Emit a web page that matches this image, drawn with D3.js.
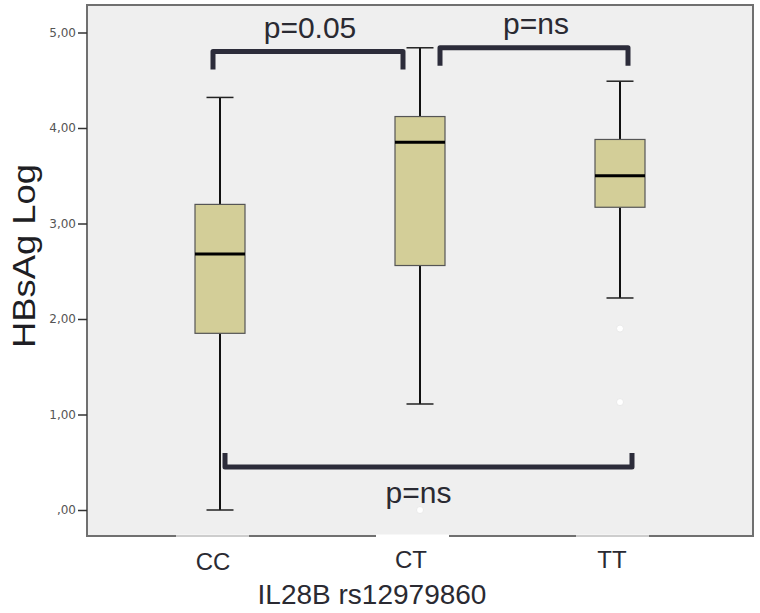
<!DOCTYPE html>
<html>
<head>
<meta charset="utf-8">
<script src="https://cdn.jsdelivr.net/npm/d3@7"></script>
<style>
  body { margin: 0; background: #fff; }
  svg { display: block; }
</style>
</head>
<body>
<svg id="chart" width="760" height="613"></svg>
<script>
// Box plot values (HBsAg Log by genotype).
const groups = ["CC", "CT", "TT"];
const whiskerLow = [0.00, 1.11, 2.22];
const q1 = [1.85, 2.56, 3.17];
const median = [2.68, 3.85, 3.50];
const q3 = [3.20, 4.12, 3.88];
const whiskerHigh = [4.32, 4.84, 4.49];
const outlierGroup = ["CT", "TT", "TT"];
const outlierValue = [0.00, 1.90, 1.13];
const yTicks = [0, 1, 2, 3, 4, 5];

// Comparison brackets: first group, second group, bracket level, label.
const cmpFrom = ["CC", "CT", "CC"];
const cmpTo = ["CT", "TT", "TT"];
const cmpLevel = [4.80, 4.84, 0.45];
const cmpLabel = ["p=0.05", "p=ns", "p=ns"];

const svg = d3.select("#chart");
const frame = {left: 87, top: 5, right: 753, bottom: 536};

const x = d3.scalePoint()
  .domain(groups)
  .range([frame.left, frame.right])
  .padding(0.665);

const y = d3.scaleLinear()
  .domain([0, 5])
  .range([510, 32.5]);

// Plot background.
svg.append("rect")
  .attr("x", frame.left)
  .attr("y", frame.top)
  .attr("width", frame.right - frame.left)
  .attr("height", frame.bottom - frame.top)
  .style("fill", "#efefef")
  .style("stroke", "#707070")
  .style("stroke-width", 2);

// Y axis ticks and labels.
const fmt = v => (v === 0 ? ",00" : d3.format(".2f")(v).replace(".", ","));
const yAxis = svg.append("g")
  .attr("transform", "translate(" + frame.left + ",0)")
  .call(d3.axisLeft(y).tickValues(yTicks).tickFormat(fmt).tickSize(9).tickPadding(2));
yAxis.select(".domain").remove();
yAxis.selectAll(".tick line").style("stroke", "#333").style("stroke-width", 1.5);
yAxis.selectAll(".tick text")
  .style("font-family", "DejaVu Sans, sans-serif")
  .style("font-size", "12px")
  .style("fill", "#555");

const boxW = 50;
const capW = 27;

const boxes = svg.append("g");
groups.forEach((g, i) => {
  const cx = x(g);
  // Whiskers.
  boxes.append("line")
    .attr("x1", cx).attr("x2", cx)
    .attr("y1", y(whiskerHigh[i])).attr("y2", y(q3[i]))
    .style("stroke", "#111").style("stroke-width", 2);
  boxes.append("line")
    .attr("x1", cx).attr("x2", cx)
    .attr("y1", y(q1[i])).attr("y2", y(whiskerLow[i]))
    .style("stroke", "#111").style("stroke-width", 2);
  [whiskerHigh[i], whiskerLow[i]].forEach(v => {
    boxes.append("line")
      .attr("x1", cx - capW / 2).attr("x2", cx + capW / 2)
      .attr("y1", y(v)).attr("y2", y(v))
      .style("stroke", "#222").style("stroke-width", 1.5);
  });
  // Box.
  boxes.append("rect")
    .attr("x", cx - boxW / 2)
    .attr("y", y(q3[i]))
    .attr("width", boxW)
    .attr("height", y(q1[i]) - y(q3[i]))
    .style("fill", "#d3ce98")
    .style("stroke", "#555")
    .style("stroke-width", 1.2);
  // Median.
  boxes.append("line")
    .attr("x1", cx - boxW / 2).attr("x2", cx + boxW / 2)
    .attr("y1", y(median[i])).attr("y2", y(median[i]))
    .style("stroke", "#000").style("stroke-width", 3);
});

// Outliers are drawn as small white dots.
svg.append("g").selectAll("circle")
  .data(outlierValue)
  .join("circle")
  .attr("cx", (d, i) => x(outlierGroup[i]))
  .attr("cy", d => y(d))
  .attr("r", 3.5)
  .style("fill", "#fff")
  .style("stroke", "#e6e6e6")
  .style("stroke-width", 0.8);

// Brackets with their p-value labels.
const bracketColor = "#2c2c3a";
const legLen = 18;
const bracketOffsets = [[-7, -17], [20, 8], [5, 12]];
cmpLabel.forEach((label, i) => {
  const x1 = x(cmpFrom[i]) + bracketOffsets[i][0];
  const x2 = x(cmpTo[i]) + bracketOffsets[i][1];
  const yb = y(cmpLevel[i]);
  const down = cmpLevel[i] > 2.5;
  const yl = down ? yb + legLen : yb - legLen + 4;
  svg.append("path")
    .attr("d", "M" + x1 + "," + yl + "L" + x1 + "," + yb + "L" + x2 + "," + yb + "L" + x2 + "," + yl)
    .style("fill", "none")
    .style("stroke", bracketColor)
    .style("stroke-width", 5)
    .style("stroke-linejoin", "round");
  svg.append("text")
    .attr("x", down ? (x1 + x2) / 2 + 2 : (x1 + x2) / 2 - 10)
    .attr("y", down ? yb - 14 : yb + 36)
    .attr("text-anchor", "middle")
    .style("font-family", "Liberation Sans, Arial, sans-serif")
    .style("font-size", "30px")
    .style("fill", "#2a2a32")
    .text(label);
});

// White patches under the category labels cut into the bottom frame line.
const patchAlpha = [0.65, 1, 0.65];
groups.forEach((g, i) => {
  svg.append("rect")
    .attr("x", x(g) - 44)
    .attr("y", frame.bottom - 1.5)
    .attr("width", 73)
    .attr("height", 44)
    .style("fill", "#fff")
    .style("opacity", patchAlpha[i]);
});

// Category labels.
const catOffsetX = [-7, -9, -8];
const catBaseline = [570, 568, 568];
svg.append("g").selectAll("text")
  .data(groups)
  .join("text")
  .attr("x", (d, i) => x(d) + catOffsetX[i])
  .attr("y", (d, i) => catBaseline[i])
  .attr("text-anchor", "middle")
  .style("font-family", "Liberation Sans, Arial, sans-serif")
  .style("font-size", "24px")
  .style("fill", "#2a2a32")
  .text(d => d);

// Axis titles.
svg.append("text")
  .attr("x", 372)
  .attr("y", 604)
  .attr("text-anchor", "middle")
  .style("font-family", "Liberation Sans, Arial, sans-serif")
  .style("font-size", "28px")
  .style("fill", "#2a2a32")
  .text("IL28B rs12979860");

svg.append("text")
  .attr("transform", "translate(35,256) rotate(-90)")
  .attr("text-anchor", "middle")
  .attr("textLength", 184)
  .attr("lengthAdjust", "spacingAndGlyphs")
  .style("font-family", "Liberation Sans, Arial, sans-serif")
  .style("font-size", "31px")
  .style("fill", "#1e1e24")
  .text("HBsAg Log");
</script>
</body>
</html>
